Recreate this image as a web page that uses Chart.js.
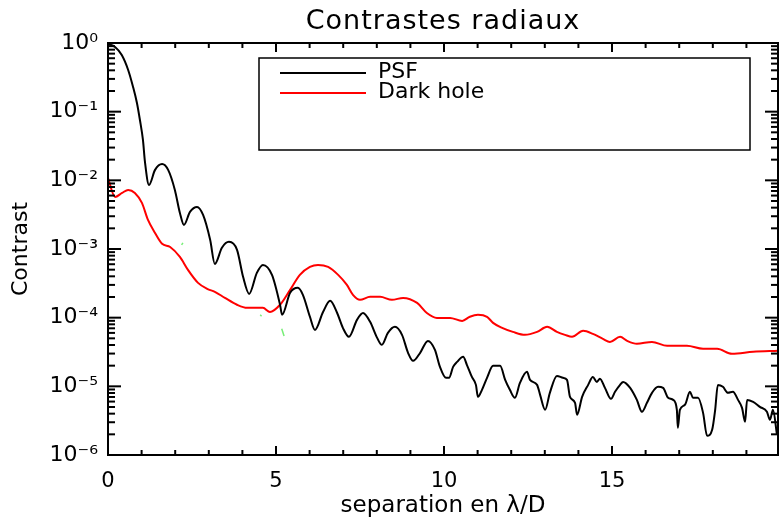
<!DOCTYPE html>
<html>
<head>
<meta charset="utf-8">
<script src="https://cdn.jsdelivr.net/npm/chart.js@4.4.1/dist/chart.umd.min.js"></script>
<style>
  html, body { margin: 0; padding: 0; background: #fff; }
</style>
</head>
<body>
<canvas id="contrastChart" width="779" height="519"></canvas>
<script>
// separation (lambda/D) and contrast
const psfX = [
  0, 0.21, 0.41, 0.60, 0.74, 0.86, 0.95, 1.04, 1.10, 1.22,
  1.40, 1.61, 1.79, 1.99, 2.14, 2.26, 2.44, 2.65, 2.83, 3.04,
  3.18, 3.39, 3.60, 3.84, 4.02, 4.20, 4.43, 4.61, 4.88, 5.12,
  5.18, 5.42, 5.65, 5.80, 6.01, 6.16, 6.40, 6.61, 6.82, 6.99,
  7.17, 7.41, 7.59, 7.80, 8.01, 8.15, 8.33, 8.54, 8.75, 8.93,
  9.08, 9.29, 9.52, 9.73, 9.88, 10.06, 10.15, 10.27, 10.39, 10.57,
  10.68, 10.83, 10.95, 11.01, 11.13, 11.28, 11.46, 11.67, 11.82, 11.96,
  12.11, 12.26, 12.47, 12.56, 12.77, 12.86, 13.01, 13.15, 13.36, 13.54,
  13.66, 13.75, 13.90, 13.96, 14.11, 14.29, 14.43, 14.55, 14.64, 14.79,
  14.97, 15.09, 15.24, 15.33, 15.54, 15.74, 15.89, 16.04, 16.19, 16.37,
  16.52, 16.67, 16.82, 16.93, 16.96, 17.02, 17.17, 17.32, 17.41, 17.56,
  17.71, 17.83, 17.98, 18.07, 18.15, 18.30, 18.45, 18.60, 18.75, 18.87,
  18.96, 19.02, 19.20, 19.40, 19.61, 19.70, 19.79, 19.91
];
const psfY = [
  0.97, 0.875, 0.668, 0.405, 0.235, 0.135, 0.0757, 0.0387, 0.0185, 0.00857,
  0.0142, 0.0173, 0.0142, 0.00725, 0.00335, 0.00224, 0.00347, 0.0041, 0.00313, 0.00136,
  0.000607, 0.00104, 0.00127, 0.00097, 0.000393, 0.000222, 0.000449, 0.000587, 0.00042, 0.000154,
  1.1e-4, 2.3e-4, 2.72e-4, 2.15e-4, 1.03e-4, 6.64e-5, 1.21e-4, 1.76e-4, 1.17e-4, 7.11e-5,
  5.26e-5, 9.29e-5, 1.17e-4, 8.69e-5, 5.08e-5, 4.02e-5, 6.01e-5, 7.35e-5, 5.62e-5, 3.08e-5,
  2.35e-5, 3.08e-5, 4.59e-5, 3.4e-5, 1.92e-5, 1.33e-5, 1.33e-5, 1.92e-5, 2.27e-5, 2.69e-5,
  2.06e-5, 1.37e-5, 1.05e-5, 7.03e-6, 8.89e-6, 1.33e-5, 1.99e-5, 1.99e-5, 1.24e-5, 8.89e-6,
  6.81e-6, 1.12e-5, 1.63e-5, 1.24e-5, 1.05e-5, 7.52e-6, 4.55e-6, 8.04e-6, 1.42e-5, 1.33e-5,
  1.24e-5, 7.03e-6, 5.75e-6, 3.85e-6, 7.03e-6, 1.05e-5, 1.37e-5, 1.16e-5, 1.29e-5, 9.5e-6,
  6.58e-6, 8.32e-6, 1.05e-5, 1.16e-5, 9.5e-6, 6.35e-6, 4.26e-6, 5.75e-6, 8.04e-6, 9.84e-6,
  9.5e-6, 6.81e-6, 6.35e-6, 4.55e-6, 2.49e-6, 4.55e-6, 5.38e-6, 8.32e-6, 6.81e-6, 6.81e-6,
  4.11e-6, 1.9e-6, 2.33e-6, 4.55e-6, 1.05e-5, 9.84e-6, 8.04e-6, 8.32e-6, 6.35e-6, 4.86e-6,
  3.04e-6, 6.35e-6, 5.94e-6, 5.03e-6, 4.26e-6, 3.25e-6, 4.55e-6, 1.97e-6
];

const holeX = [
  0, 0.21, 0.42, 0.60, 0.80, 1.01, 1.19, 1.40, 1.61, 1.85,
  2.14, 2.38, 2.68, 2.95, 3.18, 3.48, 3.84, 4.14, 4.43, 4.61,
  4.82, 5.12, 5.42, 5.71, 6.01, 6.25, 6.55, 6.85, 7.11, 7.29,
  7.50, 7.80, 8.10, 8.45, 8.78, 9.20, 9.49, 9.79, 10.18, 10.54,
  10.77, 11.01, 11.28, 11.46, 11.73, 12.05, 12.41, 12.77, 13.07, 13.36,
  13.60, 13.81, 14.14, 14.43, 14.73, 14.94, 15.24, 15.45, 15.74, 16.19,
  16.64, 17.23, 17.71, 18.13, 18.57, 19.20, 19.94
];
const holeY = [
  0.0108, 0.00573, 0.00656, 0.00725, 0.00656, 0.00469, 0.00265, 0.00171, 0.00119, 0.00107,
  7.67e-4, 4.96e-4, 3.21e-4, 2.63e-4, 2.38e-4, 1.94e-4, 1.54e-4, 1.39e-4, 1.39e-4, 1.39e-4,
  1.21e-4, 1.54e-4, 2.54e-4, 4.2e-4, 5.49e-4, 5.87e-4, 5.49e-4, 4.2e-4, 3.0e-4, 2.15e-4,
  1.82e-4, 2.01e-4, 2.01e-4, 1.82e-4, 1.94e-4, 1.64e-4, 1.17e-4, 9.93e-5, 9.93e-5, 8.98e-5,
  1.03e-4, 1.1e-4, 1.03e-4, 8.4e-5, 7.11e-5, 6.21e-5, 5.62e-5, 6.21e-5, 7.35e-5, 6.21e-5,
  5.62e-5, 5.26e-5, 6.43e-5, 5.81e-5, 4.91e-5, 4.44e-5, 5.26e-5, 4.59e-5, 4.16e-5, 4.44e-5,
  3.89e-5, 3.89e-5, 3.52e-5, 3.52e-5, 2.97e-5, 3.18e-5, 3.29e-5
];

// the little green bits that peek out under the other curves
const greenX = [2.19, 2.23, 2.3, 4.53, 4.57, 4.6, 5.17, 5.24];
const greenY = [0.00115, 0.00123, null, 1.1e-4, 1.05e-4, null, 6.9e-5, 5.4e-5];

const xTickLabels = [0, 5, 10, 15];
const yTickValues = [1e-6, 1e-5, 1e-4, 1e-3, 1e-2, 1e-1, 1];
const yTickLabels = ['10⁻⁶', '10⁻⁵', '10⁻⁴', '10⁻³', '10⁻²', '10⁻¹', '10⁰'];

const FONT = 'DejaVu Sans';

function toPoints(xs, ys) {
  return xs.map((x, i) => ({ x: x, y: ys[i] }));
}

// frame with inward ticks on all four sides, title and boxed legend (IDL look)
const idlFrame = {
  id: 'idlFrame',
  afterDraw(chart) {
    const ctx = chart.ctx;
    const a = chart.chartArea;
    const x = chart.scales.x;
    const y = chart.scales.y;

    ctx.save();
    ctx.strokeStyle = '#000';
    ctx.lineWidth = 2;
    ctx.strokeRect(a.left, a.top, a.right - a.left, a.bottom - a.top);

    function seg(x1, y1, x2, y2) {
      ctx.beginPath();
      ctx.moveTo(x1, y1);
      ctx.lineTo(x2, y2);
      ctx.stroke();
    }

    for (let v = 0; v <= x.max; v++) {
      const px = x.getPixelForValue(v);
      const len = v % 5 === 0 ? 9 : 5;
      seg(px, a.bottom, px, a.bottom - len);
      seg(px, a.top, px, a.top + len);
    }

    for (let e = -6; e <= 0; e++) {
      for (let m = 1; m <= 9; m++) {
        const v = m * Math.pow(10, e);
        if (v > y.max * 1.0001) continue;
        const py = y.getPixelForValue(v);
        const len = m === 1 ? 13 : 7;
        seg(a.left, py, a.left + len, py);
        seg(a.right, py, a.right - len, py);
      }
    }

    // title
    ctx.fillStyle = '#000';
    ctx.font = '27px "' + FONT + '"';
    ctx.letterSpacing = '1px';
    ctx.textAlign = 'center';
    ctx.textBaseline = 'middle';
    ctx.fillText('Contrastes radiaux', (a.left + a.right) / 2, 22);
    ctx.letterSpacing = '0px';

    // legend box
    ctx.lineWidth = 1.5;
    ctx.strokeRect(259, 58, 491, 92);
    ctx.font = '22px "' + FONT + '"';
    ctx.textAlign = 'left';
    chart.data.datasets.slice(0, 2).forEach((ds, i) => {
      const ly = 73 + i * 20;
      ctx.strokeStyle = ds.borderColor;
      ctx.lineWidth = 2;
      seg(280, ly, 366, ly);
      ctx.fillText(ds.label, 378, ly - 1);
    });
    ctx.restore();
  }
};

const ctx = document.getElementById('contrastChart').getContext('2d');
const contrastChart = new Chart(ctx, {
  type: 'line',
  data: {
    datasets: [
      {
        label: 'PSF',
        data: toPoints(psfX, psfY),
        borderColor: '#000000',
        borderWidth: 2,
        pointRadius: 0,
        cubicInterpolationMode: 'monotone'
      },
      {
        label: 'Dark hole',
        data: toPoints(holeX, holeY),
        borderColor: '#ff0000',
        borderWidth: 2,
        pointRadius: 0,
        cubicInterpolationMode: 'monotone'
      },
      {
        label: '',
        data: toPoints(greenX, greenY),
        borderColor: '#77ee77',
        borderWidth: 1.5,
        pointRadius: 0,
        spanGaps: false
      }
    ]
  },
  options: {
    responsive: false,
    animation: false,
    layout: { padding: { top: 43, right: 1, left: 0, bottom: 0 } },
    plugins: {
      legend: { display: false },
      tooltip: { enabled: false },
      title: { display: false }
    },
    scales: {
      x: {
        type: 'linear',
        min: 0,
        max: 19.94,
        grid: { display: false },
        border: { display: false },
        afterFit: function(scale) { scale.height = 64; },
        ticks: {
          stepSize: 5,
          includeBounds: false,
          maxRotation: 0,
          padding: 6,
          color: '#000',
          font: { family: FONT, size: 21 },
          callback: function(value) {
            return xTickLabels.includes(value) ? String(value) : '';
          }
        },
        title: {
          display: true,
          text: 'separation en λ/D',
          color: '#000',
          font: { family: FONT, size: 23, lineHeight: 1 },
          padding: { top: 0, bottom: 1 }
        }
      },
      y: {
        type: 'logarithmic',
        min: 1e-6,
        max: 1,
        grid: { display: false },
        border: { display: false },
        afterFit: function(scale) { scale.width = 108; },
        ticks: {
          autoSkip: false,
          padding: 2,
          color: '#000',
          font: { family: FONT, size: 22 },
          callback: function(value) {
            for (let i = 0; i < yTickValues.length; i++) {
              if (Math.abs(Math.log10(value) - Math.log10(yTickValues[i])) < 1e-6) return yTickLabels[i];
            }
            return '';
          }
        },
        title: {
          display: true,
          text: 'Contrast',
          color: '#000',
          font: { family: FONT, size: 22 },
          padding: { top: 8, bottom: 0 }
        }
      }
    }
  },
  plugins: [idlFrame]
});
</script>
</body>
</html>
